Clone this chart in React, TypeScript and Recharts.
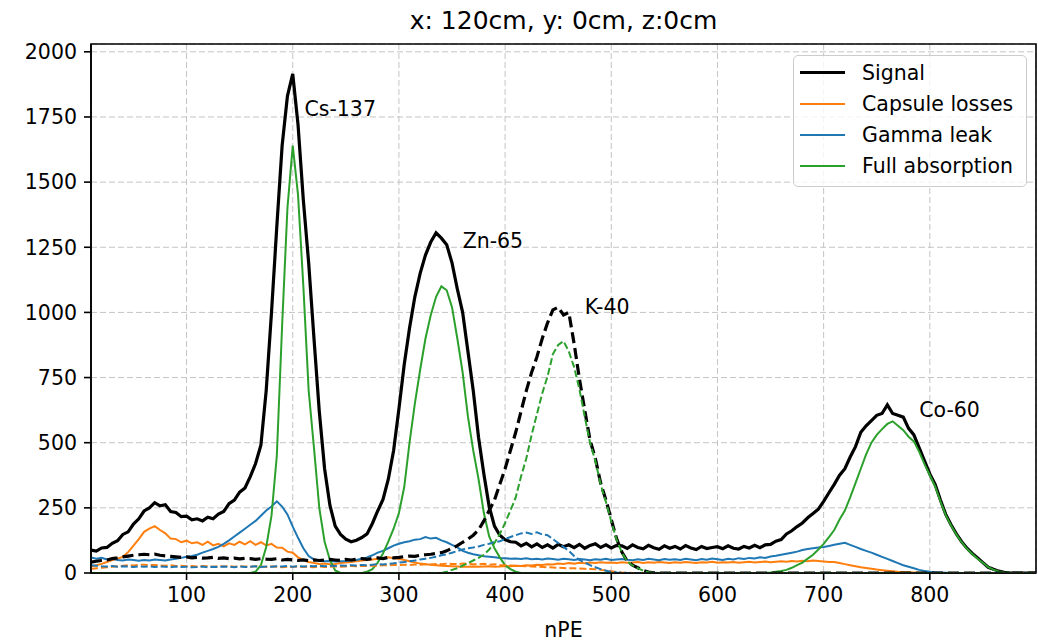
import {
  CartesianGrid,
  LineChart,
  Line,
  ReferenceArea,
  ReferenceDot,
  XAxis,
  YAxis,
} from 'recharts';

// bin position (nPE) shared by every histogram
const X_BINS = [
  10, 15, 20, 25, 30, 35, 40, 45, 50, 55,
  60, 65, 70, 75, 80, 85, 90, 95, 100, 105,
  110, 115, 120, 125, 130, 135, 140, 145, 150, 155,
  160, 165, 170, 175, 180, 185, 190, 195, 200, 205,
  210, 215, 220, 225, 230, 235, 240, 245, 250, 255,
  260, 265, 270, 275, 280, 285, 290, 295, 300, 305,
  310, 315, 320, 325, 330, 335, 340, 345, 350, 355,
  360, 365, 370, 375, 380, 385, 390, 395, 400, 405,
  410, 415, 420, 425, 430, 435, 440, 445, 450, 455,
  460, 465, 470, 475, 480, 485, 490, 495, 500, 505,
  510, 515, 520, 525, 530, 535, 540, 545, 550, 555,
  560, 565, 570, 575, 580, 585, 590, 595, 600, 605,
  610, 615, 620, 625, 630, 635, 640, 645, 650, 655,
  660, 665, 670, 675, 680, 685, 690, 695, 700, 705,
  710, 715, 720, 725, 730, 735, 740, 745, 750, 755,
  760, 765, 770, 775, 780, 785, 790, 795, 800, 805,
  810, 815, 820, 825, 830, 835, 840, 845, 850, 855,
  860, 865, 870, 875, 880, 885, 890, 895, 900,
];

// solid set: Cs-137, Zn-65, Co-60
const SIGNAL_A = [
  88, 84, 96, 98, 114, 124, 148, 158, 188, 208,
  238, 250, 270, 258, 262, 236, 232, 216, 218, 204,
  208, 200, 214, 208, 226, 236, 266, 280, 310, 326,
  370, 420, 490, 700, 1000, 1330, 1640, 1830, 1915, 1720,
  1430, 1190, 900, 620, 400, 260, 180, 148, 130, 120,
  126, 136, 150, 190, 238, 282, 360, 470, 630, 800,
  940, 1060, 1150, 1220, 1270, 1305, 1285, 1260, 1190, 1090,
  1000, 850, 700, 520, 380, 255, 180, 145, 128, 120,
  118, 104, 114, 100, 112, 98, 108, 96, 110, 101,
  108, 97, 110, 95, 106, 112, 98, 108, 96, 106,
  104, 94, 108, 98, 93, 106, 97, 91, 104, 95,
  102, 92, 105, 96, 90, 102, 94, 98, 101, 93,
  104, 95, 92, 102, 96, 106, 97, 108, 110, 122,
  128, 150, 162, 178, 192, 212, 228, 245, 275, 308,
  340, 375, 400, 445, 485, 540, 565, 585, 605, 612,
  645, 612, 605, 598, 555, 530, 480, 430, 380, 340,
  280, 225, 185, 150, 120, 95, 75, 58, 40, 22,
  14, 7, 3, 1, 0, 0, 0, 0, 0,
];
const CAPSULE_A = [
  25, 30, 35, 42, 50, 55, 62, 80, 105, 130,
  158, 170, 180, 165, 152, 132, 130, 118, 124, 114,
  118, 108, 120, 106, 112, 102, 114, 108, 120, 110,
  122, 108, 118, 106, 112, 98, 97, 82, 78, 60,
  50, 42, 38, 35, 36, 34, 35, 38, 40, 42,
  45, 48, 50, 52, 55, 58, 60, 57, 55, 50,
  45, 40, 36, 34, 32, 30, 28, 27, 26, 25,
  24, 24, 25, 24, 25, 26, 24, 25, 27, 26,
  28, 27, 30, 29, 32, 31, 34, 33, 36, 35,
  38, 36, 39, 37, 40, 38, 41, 39, 40, 38,
  41, 39, 40, 42, 38, 41, 39, 42, 40, 38,
  41, 39, 42, 40, 38, 41, 40, 43, 39, 41,
  40, 42, 39, 41, 43, 40, 42, 44, 41, 43,
  45, 43, 46, 44, 47, 45, 48, 46, 44, 42,
  42, 38, 34, 30, 26, 22, 19, 16, 13, 11,
  9, 7, 5, 4, 3, 2, 1, 1, 0, 0,
  0, 0, 0, 0, 0, 0, 0, 0, 0, 0,
  0, 0, 0, 0, 0, 0, 0, 0, 0,
];
const GAMMA_A = [
  60, 55, 58, 52, 55, 50, 48, 52, 50, 47,
  50, 48, 52, 50, 48, 52, 55, 58, 62, 65,
  70, 78, 85, 92, 100, 112, 125, 140, 155, 170,
  185, 200, 220, 240, 255, 275, 255, 225, 178, 135,
  95, 65, 52, 48, 45, 46, 44, 45, 46, 48,
  50, 55, 60, 68, 78, 85, 95, 105, 112, 118,
  122, 128, 130, 138, 132, 135, 125, 118, 108, 98,
  85, 78, 72, 68, 64, 62, 60, 58, 57, 55,
  56, 54, 57, 53, 55, 52, 56, 54, 51, 55,
  53, 50, 54, 52, 49, 53, 51, 55, 50, 52,
  54, 51, 49, 53, 50, 55, 52, 49, 54, 51,
  53, 50, 55, 52, 49, 54, 51, 56, 53, 50,
  55, 52, 57, 54, 58, 56, 60, 58, 63, 66,
  70, 74, 78, 82, 88, 92, 95, 98, 100, 104,
  108, 112, 116, 108, 100, 92, 85, 78, 70, 62,
  54, 46, 38, 30, 24, 18, 12, 8, 5, 3,
  2, 1, 0, 0, 0, 0, 0, 0, 0, 0,
  0, 0, 0, 0, 0, 0, 0, 0, 0,
];
const FULL_A = [
  0, 0, 0, 0, 0, 0, 0, 0, 0, 0,
  0, 0, 0, 0, 0, 0, 0, 0, 0, 0,
  0, 0, 0, 0, 0, 0, 0, 0, 0, 0,
  0, 5, 30, 100, 220, 450, 950, 1400, 1640, 1450,
  1100, 700, 480, 250, 120, 50, 10, 0, 0, 0,
  0, 0, 5, 15, 40, 75, 120, 170, 230, 330,
  500, 650, 780, 900, 990, 1060, 1100, 1085, 1020, 900,
  770, 600, 470, 360, 230, 140, 95, 60, 30, 15,
  5, 0, 0, 0, 0, 0, 0, 0, 0, 0,
  0, 0, 0, 0, 0, 0, 0, 0, 0, 0,
  0, 0, 0, 0, 0, 0, 0, 0, 0, 0,
  0, 0, 0, 0, 0, 0, 0, 0, 0, 0,
  0, 0, 0, 0, 0, 0, 0, 0, 2, 5,
  8, 12, 20, 30, 40, 55, 70, 90, 112, 138,
  165, 205, 240, 290, 345, 400, 455, 500, 530, 552,
  572, 582, 565, 548, 523, 505, 465, 418, 375, 332,
  275, 222, 182, 148, 118, 93, 73, 55, 39, 22,
  13, 6, 3, 1, 0, 0, 0, 0, 0,
];

// dashed set: K-40
const SIGNAL_B = [
  42, 45, 48, 50, 55, 58, 62, 65, 68, 70,
  72, 70, 72, 68, 66, 64, 62, 60, 62, 58,
  60, 57, 58, 60, 56, 58, 55, 57, 54, 56,
  55, 52, 55, 53, 52, 55, 50, 52, 50, 48,
  50, 47, 50, 48, 50, 52, 50, 48, 52, 50,
  53, 55, 52, 56, 58, 55, 60, 58, 60, 63,
  65, 64, 68, 70, 72, 75, 78, 85, 95, 105,
  118, 130, 145, 165, 200, 240, 280, 340, 400, 470,
  540, 620, 700, 770, 830, 900, 960, 1010, 1020, 990,
  1000, 880, 745, 625, 510, 440, 345, 280, 205, 132,
  80, 46, 30, 20, 10, 4, 1, 0, 0, 0,
  0, 0, 0, 0, 0, 0, 0, 0, 0, 0,
  0, 0, 0, 0, 0, 0, 0, 0, 0, 0,
  0, 0, 0, 0, 0, 0, 0, 0, 0, 0,
  0, 0, 0, 0, 0, 0, 0, 0, 0, 0,
  0, 0, 0, 0, 0, 0, 0, 0, 0, 0,
  0, 0, 0, 0, 0, 0, 0, 0, 0, 0,
  0, 0, 0, 0, 0, 0, 0, 0, 0,
];
const CAPSULE_B = [
  15, 18, 20, 22, 24, 26, 28, 30, 29, 31,
  32, 30, 31, 29, 28, 30, 27, 28, 26, 27,
  25, 27, 26, 24, 26, 25, 27, 24, 26, 25,
  24, 26, 25, 23, 25, 24, 22, 24, 23, 25,
  23, 24, 22, 25, 23, 24, 26, 24, 25, 27,
  26, 28, 27, 29, 28, 30, 29, 31, 30, 32,
  31, 33, 32, 34, 33, 35, 34, 36, 35, 34,
  36, 35, 34, 33, 35, 32, 34, 31, 30, 29,
  28, 27, 26, 25, 24, 23, 22, 21, 20, 19,
  18, 18, 17, 16, 15, 14, 12, 10, 7, 4,
  2, 1, 0, 0, 0, 0, 0, 0, 0, 0,
  0, 0, 0, 0, 0, 0, 0, 0, 0, 0,
  0, 0, 0, 0, 0, 0, 0, 0, 0, 0,
  0, 0, 0, 0, 0, 0, 0, 0, 0, 0,
  0, 0, 0, 0, 0, 0, 0, 0, 0, 0,
  0, 0, 0, 0, 0, 0, 0, 0, 0, 0,
  0, 0, 0, 0, 0, 0, 0, 0, 0, 0,
  0, 0, 0, 0, 0, 0, 0, 0, 0,
];
const GAMMA_B = [
  30, 28, 26, 25, 27, 24, 26, 25, 23, 25,
  24, 26, 23, 25, 24, 22, 25, 23, 24, 22,
  23, 25, 22, 24, 23, 25, 24, 22, 25, 23,
  24, 26, 23, 25, 24, 26, 25, 27, 24, 26,
  25, 27, 26, 28, 26, 28, 27, 29, 28, 30,
  29, 31, 30, 32, 34, 33, 35, 37, 40, 42,
  45, 48, 52, 55, 58, 62, 68, 72, 78, 84,
  90, 95, 98, 102, 108, 112, 118, 122, 130, 138,
  145, 152, 155, 150, 156, 148, 145, 130, 115, 100,
  85, 65, 50, 40, 30, 22, 15, 9, 5, 2,
  1, 0, 0, 0, 0, 0, 0, 0, 0, 0,
  0, 0, 0, 0, 0, 0, 0, 0, 0, 0,
  0, 0, 0, 0, 0, 0, 0, 0, 0, 0,
  0, 0, 0, 0, 0, 0, 0, 0, 0, 0,
  0, 0, 0, 0, 0, 0, 0, 0, 0, 0,
  0, 0, 0, 0, 0, 0, 0, 0, 0, 0,
  0, 0, 0, 0, 0, 0, 0, 0, 0, 0,
  0, 0, 0, 0, 0, 0, 0, 0, 0,
];
const FULL_B = [
  0, 0, 0, 0, 0, 0, 0, 0, 0, 0,
  0, 0, 0, 0, 0, 0, 0, 0, 0, 0,
  0, 0, 0, 0, 0, 0, 0, 0, 0, 0,
  0, 0, 0, 0, 0, 0, 0, 0, 0, 0,
  0, 0, 0, 0, 0, 0, 0, 0, 0, 0,
  0, 0, 0, 0, 0, 0, 0, 0, 0, 0,
  0, 0, 0, 0, 0, 0, 0, 5, 12, 18,
  28, 38, 48, 58, 70, 90, 115, 150, 192, 240,
  290, 370, 440, 530, 610, 690, 755, 840, 875, 890,
  850, 790, 705, 600, 500, 430, 340, 272, 198, 128,
  78, 44, 29, 19, 9, 3, 1, 0, 0, 0,
  0, 0, 0, 0, 0, 0, 0, 0, 0, 0,
  0, 0, 0, 0, 0, 0, 0, 0, 0, 0,
  0, 0, 0, 0, 0, 0, 0, 0, 0, 0,
  0, 0, 0, 0, 0, 0, 0, 0, 0, 0,
  0, 0, 0, 0, 0, 0, 0, 0, 0, 0,
  0, 0, 0, 0, 0, 0, 0, 0, 0, 0,
  0, 0, 0, 0, 0, 0, 0, 0, 0,
];

const X_TICKS = [100, 200, 300, 400, 500, 600, 700, 800];
const Y_TICKS = [0, 250, 500, 750, 1000, 1250, 1500, 1750, 2000];

const PEAKS = [
  { name: 'Cs-137', x: 211, y: 1780 },
  { name: 'Zn-65', x: 360, y: 1277 },
  { name: 'K-40', x: 475, y: 1023 },
  { name: 'Co-60', x: 790, y: 627 },
];

const LEGEND = [
  { label: 'Signal', color: '#000000', width: 3 },
  { label: 'Capsule losses', color: '#ff7f0e', width: 2 },
  { label: 'Gamma leak', color: '#1f77b4', width: 2 },
  { label: 'Full absorption', color: '#2ca02c', width: 2 },
];

const data = X_BINS.map((x, i) => ({
  x,
  sigA: SIGNAL_A[i],
  capA: CAPSULE_A[i],
  gamA: GAMMA_A[i],
  fullA: FULL_A[i],
  sigB: SIGNAL_B[i],
  capB: CAPSULE_B[i],
  gamB: GAMMA_B[i],
  fullB: FULL_B[i],
}));

const FONT = '"DejaVu Sans", sans-serif';
const tickStyle = { fontSize: 20.5, fill: '#000', fontFamily: FONT };

export default function App() {
  return (
    <div style={{ position: 'absolute', left: 0, top: 0, width: 1038, height: 642, background: '#fff', fontFamily: FONT }}>
      <div
        style={{
          position: 'absolute',
          left: 91,
          width: 945,
          top: 6,
          lineHeight: '30px',
          fontSize: 25,
          textAlign: 'center',
          color: '#000',
        }}
      >
        x: 120cm, y: 0cm, z:0cm
      </div>

      <LineChart
        width={1038}
        height={642}
        data={data}
        margin={{ top: 44, right: 2, bottom: 0, left: 0 }}
      >
        <CartesianGrid stroke="#c4c4c4" strokeDasharray="6 3" strokeWidth={1} />
        <XAxis
          dataKey="x"
          type="number"
          domain={[10, 900]}
          ticks={X_TICKS}
          allowDataOverflow
          height={69}
          tick={tickStyle}
          tickSize={7}
          tickMargin={7}
          tickLine={{ stroke: '#000', strokeWidth: 1.6 }}
          axisLine={{ stroke: '#000', strokeWidth: 1.6 }}
          label={{ value: 'nPE', position: 'insideBottom', offset: 5, fontSize: 20.5, fill: '#000', fontFamily: FONT }}
        />
        <YAxis
          type="number"
          domain={[0, 2030]}
          ticks={Y_TICKS}
          allowDataOverflow
          width={91}
          tick={tickStyle}
          tickSize={7}
          tickMargin={7}
          tickLine={{ stroke: '#000', strokeWidth: 1.6 }}
          axisLine={{ stroke: '#000', strokeWidth: 1.6 }}
        />

        <Line dataKey="sigA" type="linear" stroke="#000000" strokeWidth={3.2} dot={false} isAnimationActive={false} />
        <Line dataKey="capA" type="linear" stroke="#ff7f0e" strokeWidth={2} dot={false} isAnimationActive={false} />
        <Line dataKey="gamA" type="linear" stroke="#1f77b4" strokeWidth={2} dot={false} isAnimationActive={false} />
        <Line dataKey="fullA" type="linear" stroke="#2ca02c" strokeWidth={2} dot={false} isAnimationActive={false} />

        <Line dataKey="sigB" type="linear" stroke="#000000" strokeWidth={3.2} strokeDasharray="11 5" dot={false} isAnimationActive={false} />
        <Line dataKey="capB" type="linear" stroke="#ff7f0e" strokeWidth={2} strokeDasharray="7 3" dot={false} isAnimationActive={false} />
        <Line dataKey="gamB" type="linear" stroke="#1f77b4" strokeWidth={2} strokeDasharray="7 3" dot={false} isAnimationActive={false} />
        <Line dataKey="fullB" type="linear" stroke="#2ca02c" strokeWidth={2} strokeDasharray="7 3" dot={false} isAnimationActive={false} />

        <ReferenceArea x1={10} x2={900} y1={0} y2={2030} fill="none" stroke="#000" strokeWidth={1.6} ifOverflow="visible" />

        {PEAKS.map((p) => (
          <ReferenceDot
            key={p.name}
            x={p.x}
            y={p.y}
            r={0}
            fill="none"
            stroke="none"
            label={{ value: p.name, position: 'right', offset: 0, fontSize: 20.5, fill: '#000', fontFamily: FONT }}
          />
        ))}
      </LineChart>

      <div
        style={{
          position: 'absolute',
          left: 793,
          top: 55,
          width: 234,
          height: 132,
          boxSizing: 'border-box',
          border: '1.5px solid #cccccc',
          borderRadius: 5,
          background: 'rgba(255,255,255,0.8)',
          paddingTop: 1,
        }}
      >
        {LEGEND.map((item) => (
          <div key={item.label} style={{ display: 'flex', alignItems: 'center', height: 31 }}>
            <span
              style={{
                display: 'inline-block',
                marginLeft: 6,
                width: 45,
                height: item.width,
                background: item.color,
              }}
            />
            <span style={{ marginLeft: 17, fontSize: 20.5, color: '#000', whiteSpace: 'nowrap' }}>{item.label}</span>
          </div>
        ))}
      </div>
    </div>
  );
}
